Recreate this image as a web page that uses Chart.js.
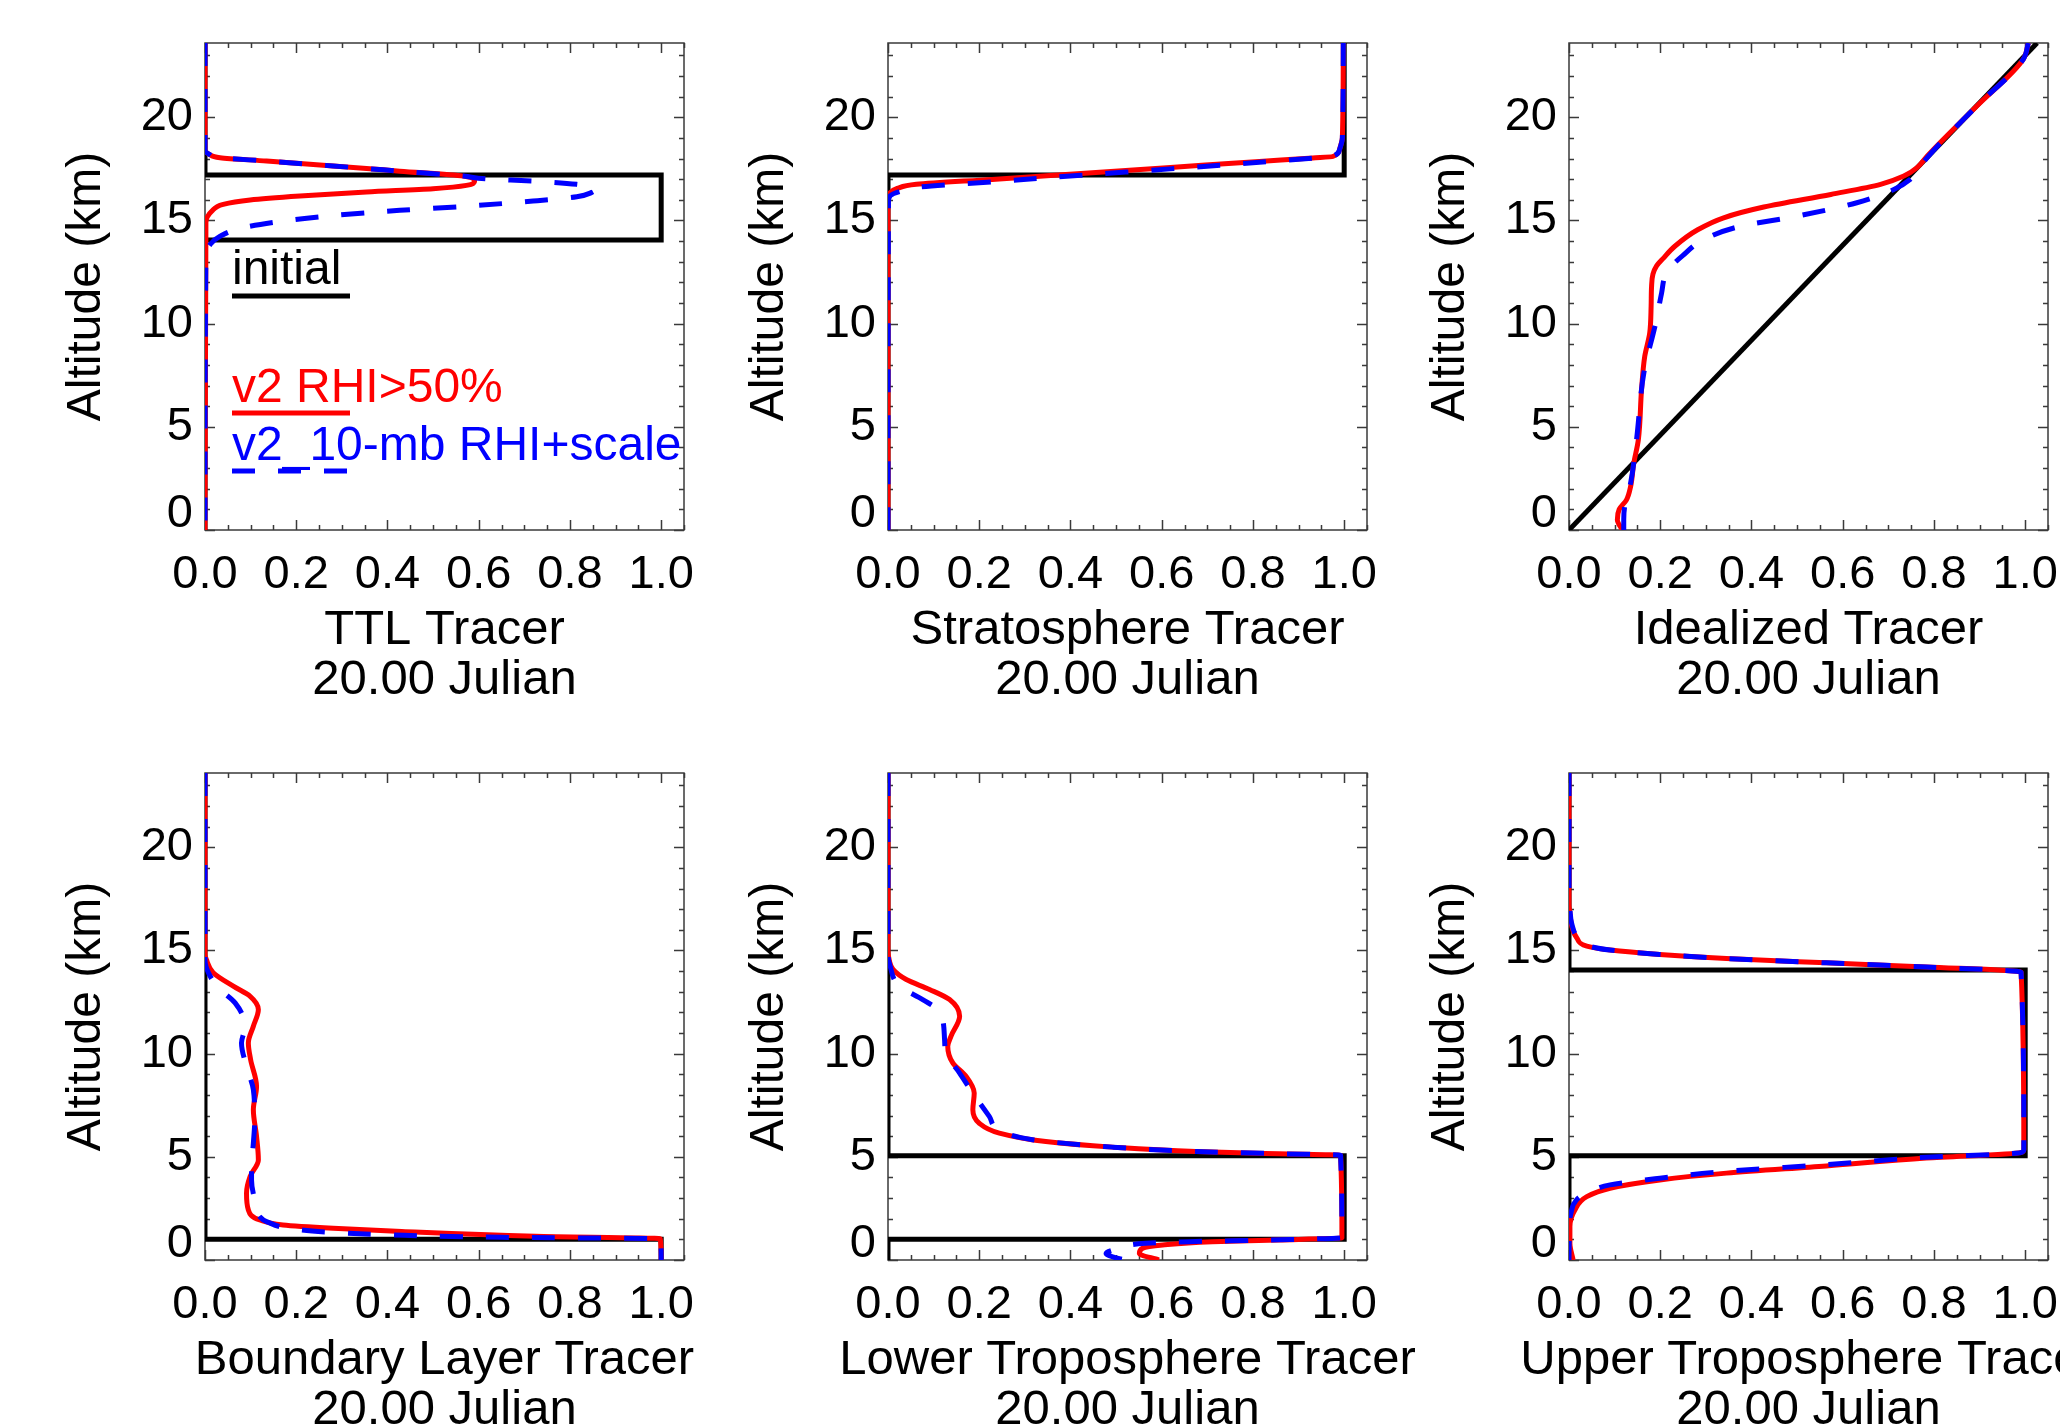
<!DOCTYPE html>
<html>
<head>
<meta charset="utf-8">
<script src="https://cdn.jsdelivr.net/npm/chart.js@4.4.1/dist/chart.umd.min.js"></script>
<style>
  html, body { margin: 0; padding: 0; background: #fff; overflow: hidden; }
  body { width: 2060px; height: 1426px; position: relative; }
  canvas { position: absolute; }
</style>
</head>
<body>
<canvas id="ttl" width="780" height="730" style="left:0;top:0"></canvas>
<canvas id="strat" width="780" height="730" style="left:683px;top:0"></canvas>
<canvas id="ideal" width="780" height="730" style="left:1364px;top:0"></canvas>
<canvas id="bl" width="780" height="730" style="left:0;top:730px"></canvas>
<canvas id="lt" width="780" height="730" style="left:683px;top:730px"></canvas>
<canvas id="ut" width="780" height="730" style="left:1364px;top:730px"></canvas>
<script>
// axes
const xTicks = [0, 0.2, 0.4, 0.6, 0.8, 1.0];
const yTicks = [0, 5, 10, 15, 20];
const xMax = 1.05, yMax = 23.6;
const xMinorStep = 0.05, yMinorStep = 1;

const tracerNames = ["TTL Tracer", "Stratosphere Tracer", "Idealized Tracer",
  "Boundary Layer Tracer", "Lower Troposphere Tracer", "Upper Troposphere Tracer"];
const runLabel = "20.00 Julian";
const seriesNames = ["initial", "v2 RHI>50%", "v2_10-mb RHI+scale"];

// TTL tracer (altitude km, mixing ratio)
const ttlInitAlt = [23.6, 17.2, 17.2, 14.05, 14.05, 0];
const ttlInitVal = [0, 0, 1, 1, 0, 0];
const ttlRhiAlt = [23.6, 18.4, 18.2, 18.04, 17.88, 17.64, 17.39, 17.15, 16.91, 16.7, 16.54, 16.38, 16.18, 15.99, 15.78, 15.45, 14.9, 0];
const ttlRhiVal = [0, 0, 0.01, 0.033, 0.135, 0.281, 0.427, 0.566, 0.591, 0.573, 0.5, 0.354, 0.208, 0.099, 0.04, 0.015, 0.002, 0];
const ttlScaleAlt = [23.6, 18.4, 18.2, 18.04, 17.88, 17.64, 17.39, 17.15, 17.02, 16.91, 16.75, 16.62, 16.5, 16.36, 16.15, 15.94, 15.69, 15.49, 15.24, 14.97, 14.65, 14.24, 13.83, 13.35, 0];
const ttlScaleVal = [0, 0, 0.01, 0.033, 0.135, 0.281, 0.427, 0.566, 0.615, 0.719, 0.815, 0.846, 0.856, 0.848, 0.815, 0.719, 0.573, 0.427, 0.281, 0.171, 0.084, 0.033, 0.011, 0.002, 0];

// Stratosphere tracer
const stratInitAlt = [23.6, 17.2, 17.2, 0];
const stratInitVal = [1, 1, 0, 0];
const stratRhiAlt = [23.6, 19.0, 18.45, 18.1, 18.03, 17.86, 17.57, 17.28, 16.99, 16.75, 16.55, 16.36, 16.1, 15.8, 0];
const stratRhiVal = [0.998, 0.996, 0.99, 0.975, 0.931, 0.814, 0.619, 0.423, 0.228, 0.062, 0.02, 0.005, 0.001, 0, 0];
const stratScaleAlt = [23.6, 19.0, 18.45, 18.12, 18.02, 17.82, 17.5, 17.19, 16.87, 16.62, 16.4, 16.2, 15.9, 0];
const stratScaleVal = [0.998, 0.996, 0.99, 0.975, 0.931, 0.814, 0.619, 0.423, 0.228, 0.07, 0.025, 0.005, 0.001, 0];

// Idealized tracer
const idealInitAlt = [0, 23.6];
const idealInitVal = [0, 1.026];
const idealRhiAlt = [0, 0.5, 1.0, 1.46, 2.1, 3.24, 4.37, 6.8, 8.41, 9.55, 10.84, 11.8, 12.4, 12.8, 13.15, 13.75, 14.56, 15.13, 15.65, 16.26, 16.75, 17.15, 17.56, 18.12, 20.55, 22.82, 23.6];
const idealRhiVal = [0.117, 0.106, 0.11, 0.126, 0.135, 0.142, 0.152, 0.159, 0.166, 0.177, 0.18, 0.181, 0.184, 0.192, 0.206, 0.232, 0.283, 0.339, 0.427, 0.574, 0.683, 0.734, 0.763, 0.785, 0.894, 0.996, 1.007];
const idealScaleAlt = [0, 0.5, 1.14, 2.27, 4.37, 7.6, 10.03, 11.49, 12.4, 12.8, 13.27, 14.08, 14.72, 15.21, 15.86, 16.5, 16.99, 17.56, 18.12, 20.55, 22.82, 23.6];
const idealScaleVal = [0.12, 0.12, 0.122, 0.135, 0.148, 0.164, 0.19, 0.203, 0.212, 0.225, 0.248, 0.296, 0.376, 0.5, 0.631, 0.712, 0.748, 0.768, 0.788, 0.894, 0.996, 1.007];

// Boundary layer tracer
const blInitAlt = [23.6, 1.0, 1.0, 0];
const blInitVal = [0, 0, 1, 1];
const blRhiAlt = [23.6, 14.8, 14.56, 13.92, 13.27, 12.78, 12.14, 11.33, 10.52, 9.71, 8.41, 7.28, 5.99, 4.85, 4.05, 3.24, 2.43, 1.94, 1.7, 1.54, 1.38, 1.15, 1.03, 0];
const blRhiVal = [0, 0, 0.003, 0.018, 0.062, 0.099, 0.117, 0.106, 0.095, 0.1, 0.113, 0.106, 0.113, 0.117, 0.099, 0.091, 0.095, 0.12, 0.171, 0.281, 0.431, 0.724, 0.998, 1.0];
const blScaleAlt = [23.6, 14.5, 13.9, 13.19, 12.46, 11.33, 10.52, 9.38, 8.25, 6.8, 5.66, 4.53, 3.88, 2.59, 2.1, 1.86, 1.46, 1.3, 1.21, 1.1, 1.03, 0];
const blScaleVal = [0, 0, 0.008, 0.029, 0.066, 0.088, 0.08, 0.091, 0.106, 0.109, 0.106, 0.102, 0.102, 0.113, 0.12, 0.135, 0.208, 0.31, 0.412, 0.65, 0.998, 1.0];

// Lower troposphere tracer
const ltInitAlt = [23.6, 5.05, 5.05, 1.0, 1.0, 0];
const ltInitVal = [0, 0, 1, 1, 0, 0];
const ltRhiAlt = [23.6, 15.0, 14.5, 14.08, 13.59, 13.11, 12.62, 11.81, 10.84, 10.35, 9.55, 8.9, 8.09, 7.28, 6.63, 6.15, 5.74, 5.47, 5.26, 5.15, 5.08, 1.08, 0.97, 0.89, 0.73, 0.57, 0.32, 0];
const ltRhiVal = [0, 0, 0.003, 0.011, 0.04, 0.091, 0.135, 0.157, 0.138, 0.131, 0.142, 0.171, 0.189, 0.186, 0.2, 0.244, 0.346, 0.492, 0.675, 0.857, 0.992, 0.995, 0.857, 0.711, 0.602, 0.558, 0.551, 0.594];
const ltScaleAlt = [23.6, 14.8, 14.3, 13.27, 12.62, 12.05, 10.68, 10.03, 9.06, 8.09, 6.96, 6.31, 5.83, 5.47, 5.26, 5.15, 5.08, 1.08, 0.97, 0.89, 0.81, 0.6, 0.32, 0.1, 0];
const ltScaleVal = [0, 0, 0.004, 0.025, 0.076, 0.113, 0.124, 0.127, 0.157, 0.186, 0.222, 0.244, 0.317, 0.492, 0.675, 0.857, 0.992, 0.995, 0.84, 0.66, 0.565, 0.514, 0.478, 0.5, 0.52];

// Upper troposphere tracer
const utInitAlt = [23.6, 14.05, 14.05, 5.05, 5.05, 0];
const utInitVal = [0, 0, 1, 1, 0, 0];
const utRhiAlt = [23.6, 17.2, 16.83, 16.18, 15.61, 15.21, 15.02, 14.81, 14.61, 14.4, 14.2, 13.95, 5.34, 5.2, 4.94, 4.56, 4.21, 3.88, 3.48, 3.07, 2.43, 1.62, 0.81, 0];
const utRhiVal = [0, 0, 0.002, 0.006, 0.017, 0.039, 0.09, 0.199, 0.345, 0.564, 0.783, 0.991, 0.997, 0.99, 0.783, 0.564, 0.345, 0.199, 0.09, 0.039, 0.013, 0.002, 0.002, 0.009];
const utScaleAlt = [23.6, 17.5, 17.0, 16.3, 15.6, 15.2, 15.02, 14.81, 14.61, 14.4, 14.2, 13.95, 5.34, 5.2, 4.98, 4.62, 4.3, 3.96, 3.64, 3.3, 3.07, 2.7, 2.43, 2.0, 0];
const utScaleVal = [0, 0, 0.002, 0.006, 0.02, 0.045, 0.09, 0.199, 0.345, 0.564, 0.783, 0.991, 0.997, 0.99, 0.783, 0.564, 0.345, 0.199, 0.09, 0.045, 0.024, 0.01, 0.006, 0.002, 0];

const FONT = '"Liberation Sans", Arial, Helvetica, sans-serif';
Chart.defaults.font.family = FONT;
Chart.defaults.color = "#000";

const toPoints = (alt, val) => alt.map((a, i) => ({ x: val[i], y: a }));

// box with inward ticks on all four sides
const framePlugin = {
  id: "frame",
  beforeDatasetsDraw(chart) {
    const { ctx, chartArea: a, scales: { x, y } } = chart;
    ctx.save();
    ctx.strokeStyle = "#3a3a3a";
    ctx.lineWidth = 1.5;
    ctx.strokeRect(a.left, a.top, a.width, a.height);
    ctx.beginPath();
    for (let i = 0; i * xMinorStep <= xMax + 1e-9; i++) {
      const px = Math.round(x.getPixelForValue(i * xMinorStep)) + 0.5;
      const len = i % 4 === 0 ? 10 : 5;
      ctx.moveTo(px, a.bottom); ctx.lineTo(px, a.bottom - len);
      ctx.moveTo(px, a.top); ctx.lineTo(px, a.top + len);
    }
    for (let i = 0; i * yMinorStep <= yMax; i++) {
      const py = Math.round(y.getPixelForValue(i * yMinorStep)) + 0.5;
      const len = i % 5 === 0 ? 10 : 5;
      ctx.moveTo(a.left, py); ctx.lineTo(a.left + len, py);
      ctx.moveTo(a.right, py); ctx.lineTo(a.right - len, py);
    }
    ctx.stroke();
    ctx.restore();
  },
};

// two-line caption under the x axis (not squeezed to the plot width)
const captionPlugin = {
  id: "caption",
  afterDraw(chart, args, opts) {
    const { ctx, chartArea: a } = chart;
    const cx = (a.left + a.right) / 2;
    ctx.save();
    ctx.font = "49px " + FONT;
    ctx.fillStyle = "#000";
    ctx.textAlign = "center";
    ctx.textBaseline = "middle";
    ctx.fillText(opts.title, cx, a.bottom + 100);
    ctx.fillText(runLabel, cx, a.bottom + 150);
    ctx.restore();
  },
};

// in-plot key, only on the first panel
const keyPlugin = {
  id: "keyNotes",
  afterDatasetsDraw(chart) {
    const { ctx, chartArea: a } = chart;
    const rows = [
      { ds: 2, textY: 241, lineY: 253, len: 118 },
      { ds: 1, textY: 359, lineY: 370, len: 118 },
      { ds: 0, textY: 417, lineY: 428, len: 115 },
    ];
    ctx.save();
    ctx.font = "48px " + FONT;
    ctx.textBaseline = "alphabetic";
    rows.forEach((r) => {
      const d = chart.data.datasets[r.ds];
      const x0 = a.left + 27;
      ctx.fillStyle = d.borderColor;
      ctx.fillText(d.label, x0, a.top + r.textY);
      ctx.strokeStyle = d.borderColor;
      ctx.lineWidth = 5;
      ctx.setLineDash(d.borderDash || []);
      ctx.beginPath();
      ctx.moveTo(x0, a.top + r.lineY);
      ctx.lineTo(x0 + r.len, a.top + r.lineY);
      ctx.stroke();
    });
    ctx.restore();
  },
};

const panels = [
  { id: "ttl", init: [ttlInitAlt, ttlInitVal], rhi: [ttlRhiAlt, ttlRhiVal], scale: [ttlScaleAlt, ttlScaleVal], key: true },
  { id: "strat", init: [stratInitAlt, stratInitVal], rhi: [stratRhiAlt, stratRhiVal], scale: [stratScaleAlt, stratScaleVal] },
  { id: "ideal", init: [idealInitAlt, idealInitVal], rhi: [idealRhiAlt, idealRhiVal], scale: [idealScaleAlt, idealScaleVal] },
  { id: "bl", init: [blInitAlt, blInitVal], rhi: [blRhiAlt, blRhiVal], scale: [blScaleAlt, blScaleVal] },
  { id: "lt", init: [ltInitAlt, ltInitVal], rhi: [ltRhiAlt, ltRhiVal], scale: [ltScaleAlt, ltScaleVal] },
  { id: "ut", init: [utInitAlt, utInitVal], rhi: [utRhiAlt, utRhiVal], scale: [utScaleAlt, utScaleVal] },
];

panels.forEach((p, k) => {
  new Chart(document.getElementById(p.id), {
    type: "line",
    data: {
      datasets: [
        {
          label: seriesNames[2],
          data: toPoints(...p.scale),
          borderColor: "#0000ff",
          borderDash: [23, 23],
          cubicInterpolationMode: "monotone",
          order: 1,
        },
        {
          label: seriesNames[1],
          data: toPoints(...p.rhi),
          borderColor: "#ff0000",
          cubicInterpolationMode: "monotone",
          order: 2,
        },
        {
          label: seriesNames[0],
          data: toPoints(...p.init),
          borderColor: "#000000",
          order: 3,
        },
      ],
    },
    options: {
      indexAxis: "y",
      responsive: false,
      animation: false,
      events: [],
      layout: { autoPadding: false, padding: { top: 43, right: 96, left: 0, bottom: 0 } },
      elements: {
        point: { radius: 0 },
        line: { borderWidth: 5, tension: 0, fill: false },
      },
      plugins: {
        legend: { display: false },
        tooltip: { enabled: false },
        caption: { title: tracerNames[k] },
      },
      scales: {
        x: {
          type: "linear",
          min: 0,
          max: xMax,
          grid: { display: false, drawTicks: false },
          border: { display: false },
          afterBuildTicks: (s) => { s.ticks = xTicks.map((v) => ({ value: v })); },
          afterFit: (s) => { s.height = 200; },
          ticks: {
            autoSkip: false,
            maxRotation: 0,
            padding: 17,
            font: { size: 47, lineHeight: 1.2 },
            callback: (v) => Number(v).toFixed(1),
          },
        },
        y: {
          type: "linear",
          min: 0,
          max: yMax,
          grid: { display: false, drawTicks: false },
          border: { display: false },
          afterBuildTicks: (s) => { s.ticks = yTicks.map((v) => ({ value: v })); },
          afterFit: (s) => { s.width = 205; },
          ticks: {
            autoSkip: false,
            padding: 12,
            font: { size: 47, lineHeight: "32px" },
            // the lowest label sits above its tick, as in the original plot
            callback: (v) => (v === 0 ? ["0", ""] : String(v)),
          },
          title: {
            display: true,
            text: "Altitude (km)",
            font: { size: 48, lineHeight: "50px" },
            padding: { top: 62, bottom: 0 },
          },
        },
      },
    },
    plugins: p.key ? [framePlugin, captionPlugin, keyPlugin] : [framePlugin, captionPlugin],
  });
});
</script>
</body>
</html>
